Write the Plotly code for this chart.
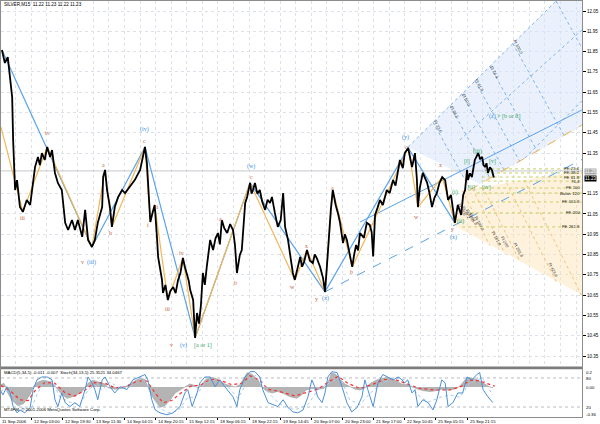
import plotly.graph_objects as go

# ---------------- DATA ----------------
time_labels = ["11 Sep 2006", "12 Sep 03:00", "12 Sep 19:30", "13 Sep 11:30", "14 Sep 04:15",
               "14 Sep 20:15", "15 Sep 12:15", "18 Sep 06:15", "18 Sep 22:15", "19 Sep 14:45",
               "20 Sep 07:00", "20 Sep 23:00", "21 Sep 17:00", "22 Sep 10:45", "25 Sep 05:15",
               "25 Sep 21:15"]
label_step = 64          # bars between time labels (M15)
grid_step = 32
price_ticks = [10.35, 10.45, 10.55, 10.65, 10.75, 10.85, 10.95, 11.05, 11.15, 11.35,
               11.45, 11.55, 11.65, 11.75, 11.85, 11.95, 12.05]

# SILVER M15 price path (bar index, price)
price_points = [
    (4, 11.858), (10, 11.794), (16, 11.823), (21, 11.710), (25, 11.626), (27, 11.414), (31, 11.168),
    (35, 11.217), (41, 11.084), (47, 11.060), (55, 11.119), (62, 11.094), (66, 11.168), (72, 11.281),
    (78, 11.331), (82, 11.291), (86, 11.350), (92, 11.316), (97, 11.380), (103, 11.331), (107, 11.365),
    (113, 11.252), (119, 11.203), (127, 11.168), (134, 11.006), (140, 10.971), (148, 11.020),
    (154, 10.971), (160, 11.020), (169, 10.937), (175, 11.070), (181, 10.922), (189, 10.887),
    (195, 10.922), (201, 11.006), (210, 11.084), (212, 11.232), (216, 11.267), (220, 11.168),
    (226, 11.084), (230, 10.986), (236, 11.084), (243, 11.134), (251, 11.168), (257, 11.153),
    (267, 11.183), (277, 11.217), (288, 11.267), (294, 11.331), (298, 11.380), (302, 11.300),
    (306, 11.150), (309, 11.010), (314, 11.060), (318, 11.094), (323, 10.922), (325, 10.838),
    (333, 10.725), (335, 10.661), (340, 10.700), (345, 10.626), (350, 10.670), (356, 10.690),
    (361, 10.660), (366, 10.725), (371, 10.760), (376, 10.833), (380, 10.790), (384, 10.759),
    (388, 10.720), (391, 10.675), (397, 10.626), (401, 10.439), (405, 10.562), (409, 10.510),
    (413, 10.600), (417, 10.759), (421, 10.700), (425, 10.789), (432, 10.922), (438, 10.872),
    (443, 10.930), (448, 10.956), (452, 10.900), (456, 11.020), (461, 10.980), (467, 10.956),
    (473, 11.000), (479, 10.971), (483, 10.897), (487, 10.759), (490, 10.800), (493, 10.848),
    (497, 10.872), (501, 11.000), (504, 11.104), (508, 11.134), (514, 11.203), (517, 11.150),
    (520, 11.168), (524, 11.203), (529, 11.150), (534, 11.168), (539, 11.110), (545, 11.070),
    (550, 11.120), (555, 11.104), (559, 11.134), (565, 11.055), (571, 10.986), (577, 11.020),
    (582, 11.153), (586, 10.986), (592, 10.922), (598, 10.823), (602, 10.759), (606, 10.725),
    (611, 10.780), (617, 10.838), (621, 10.790), (625, 10.813), (631, 10.872), (637, 10.820),
    (643, 10.808), (647, 10.850), (651, 10.833), (658, 10.789), (664, 10.734), (668, 10.666),
    (671, 10.760), (674, 10.872), (680, 11.070), (684, 11.168), (687, 11.120), (690, 11.094),
    (695, 11.050), (699, 11.006), (705, 10.907), (709, 10.950), (713, 10.922), (719, 10.858),
    (724, 10.789), (728, 10.850), (732, 10.897), (736, 10.870), (740, 10.956), (748, 10.932),
    (754, 11.006), (760, 10.996), (764, 10.960), (767, 10.840), (771, 11.045), (776, 11.080),
    (781, 11.119), (787, 11.094), (791, 11.140), (795, 11.168), (801, 11.153), (805, 11.200),
    (808, 11.217), (813, 11.190), (818, 11.252), (822, 11.316), (828, 11.276), (832, 11.350),
    (839, 11.375), (843, 11.320), (847, 11.281), (853, 11.350), (857, 11.217), (859, 11.084),
    (863, 11.180), (869, 11.252), (874, 11.220), (878, 11.203), (883, 11.150), (888, 11.084),
    (893, 11.130), (898, 11.153), (903, 11.200), (909, 11.232), (915, 11.217), (921, 11.119),
    (927, 11.143), (931, 11.060), (935, 11.006), (941, 11.094), (948, 11.045), (952, 11.143),
    (956, 11.168), (960, 11.267), (962, 11.217), (966, 11.250), (970, 11.232), (976, 11.316),
    (983, 11.350), (987, 11.320), (991, 11.331), (994, 11.290), (997, 11.281), (1000, 11.300),
    (1003, 11.252), (1007, 11.280), (1011, 11.267), (1015, 11.230)]

# Elliott wave pivots
blue_bar = [4, 189, 298, 401, 514, 668, 839, 935]
blue_val = [11.858, 10.887, 11.380, 10.439, 11.203, 10.666, 11.375, 11.006]
orange_bar = [2, 47, 97, 189, 216, 230, 298, 309, 318, 345, 376, 401, 514, 606, 631, 668, 684,
              724, 839, 859, 909, 935]
orange_val = [11.478, 11.060, 11.380, 10.887, 11.267, 10.986, 11.380, 11.010, 11.094, 10.626,
              10.833, 10.439, 11.203, 10.725, 10.872, 10.666, 11.168, 10.789, 11.375, 11.084,
              11.232, 11.006]

wave_text = ["iii", "iv", "v", "(iii)", "a", "b", "c", "(iv)", "i", "ii", "iii", "iv", "v", "(v)",
             "[a or 1]", "a", "b", "c", "(w)", "w", "x", "y", "(x)", "a", "b", "c", "(y)", "w", "x",
             "y", "(x)", "(i)", "[i]", "(ii)", "[ii]", "(iii)", "[iv]", "[v]"]
wave_bar = [47, 97, 169, 189, 212, 228, 296, 298, 304, 323, 345, 374, 353, 378, 417, 454, 485,
            516, 516, 602, 631, 651, 670, 684, 723, 836, 834, 857, 906, 931, 933, 935, 960, 947,
            970, 982, 999, 1013]
wave_val = [11.030, 11.449, 10.813, 10.813, 11.291, 10.956, 11.409, 11.464, 10.996, 11.084,
            10.582, 10.858, 10.404, 10.404, 10.404, 11.025, 10.710, 11.232, 11.286, 10.690,
            10.892, 10.631, 10.631, 11.178, 10.764, 11.380, 11.429, 11.035, 11.291, 10.976,
            10.932, 11.158, 11.306, 11.015, 11.178, 11.360, 11.178, 11.306]
wave_kind = ["o", "o", "o", "b", "o", "o", "o", "b", "o", "o", "o", "o", "o", "b", "g", "o", "o",
             "o", "b", "o", "o", "o", "b", "o", "o", "o", "b", "o", "o", "o", "b", "g", "g", "g",
             "g", "g", "g", "g"]

# Fibonacci zones
blue_zone_bar = [839, 1143, 1200, 1200, 986, 839]
blue_zone_val = [11.380, 12.10, 12.10, 11.488, 11.198, 11.380]
orange_zone_bar = [931, 956, 1200, 1200, 931]
orange_zone_val = [10.996, 11.168, 11.267, 10.646, 10.996]

blue_ft_x0 = [890, 925, 949, 976, 1007, 1054, 1143, 839, 945, 1079]
blue_ft_y0 = [11.502, 11.584, 11.642, 11.706, 11.778, 11.890, 12.099, 11.380, 11.414, 11.326]
blue_ft_x1 = [967, 1007, 1036, 1068, 1104, 1159, 1196, 1143, 1196, 1196]
blue_ft_y1 = [11.170, 11.227, 11.267, 11.310, 11.361, 11.438, 11.868, 12.099, 11.956, 11.607]

orange_ft_x0 = [950, 971, 992, 1041, 1077]
orange_ft_y0 = [11.166, 11.175, 11.183, 11.204, 11.217]
orange_ft_x1 = [1007, 1038, 1069, 1143, 1196]
orange_ft_y1 = [10.895, 10.855, 10.814, 10.717, 10.646]

orange_dash_bar = [966, 1196]
orange_dash_val = [11.168, 11.488]
blue_solid_bar = [740, 1196]
blue_solid_val = [11.010, 11.562]
blue_dash_bar = [668, 1196]
blue_dash_val = [10.666, 11.318]
bid_line_val = 11.262
last_price = 11.23

fe_val = [11.272, 11.252, 11.232, 11.212, 11.178, 11.153, 11.109, 11.055, 10.986]
fe_text = ["FE 23.6", "FE 38.2", "FE 61.8", "76.4", "FE 100", "Balan 120", "FE 161.8", "FE 200",
           "FE 261.8"]
fe_start = [997, 997, 990, 990, 985, 980, 970, 966, 950]

blue_ft_text = ["Ft 23.6", "Ft 38.2", "Ft 50.0", "Ft 61.8", "Ft 76.4", "Ft 100.0"]
blue_ft_lab_bar = [900, 935, 960, 986, 1017, 1064]
blue_ft_lab_val = [11.479, 11.552, 11.611, 11.685, 11.749, 11.873]
orange_ft_text = ["Ft 23.6", "Ft 38.2", "Ft 50.0", "Ft 61.8", "Ft 100.0", "Ft 161.8", "Ft 200",
                  "Ft 261.8", "Ft 423.6"]
orange_ft_lab_bar = [949, 958, 966, 974, 986, 1021, 1038, 1067, 1136]
orange_ft_lab_val = [11.070, 11.055, 11.040, 11.025, 11.005, 10.931, 10.907, 10.872, 10.774]

# MACD(5,34,5)
macd_bar = [2, 8, 12, 16, 25, 37, 49, 62, 68, 76, 88, 103, 113, 117, 127, 138, 154, 169, 175, 181,
            191, 206, 216, 222, 236, 251, 263, 277, 288, 298, 304, 312, 323, 329, 339, 349, 360,
            370, 380, 390, 401, 407, 415, 423, 432, 442, 452, 462, 473, 483, 493, 501, 508, 518,
            530, 538, 547, 559, 571, 584, 596, 610, 621, 629, 641, 653, 666, 674, 682, 690, 699,
            709, 719, 730, 740, 748, 756, 764, 777, 787, 795, 806, 816, 826, 838, 849, 859, 871,
            884, 896, 908, 921, 933, 941, 949, 960, 970, 980, 991, 999, 1007, 1013]
macd_val = [0.03, 0.05, 0.0, -0.08, -0.18, -0.25, -0.22, -0.10, 0.0, 0.06, 0.09, 0.07, 0.02, -0.02,
            -0.10, -0.15, -0.12, -0.06, 0.0, 0.05, 0.09, 0.06, 0.04, -0.01, -0.03, -0.02, 0.03,
            0.08, 0.12, 0.10, 0.0, -0.12, -0.22, -0.27, -0.25, -0.18, -0.08, -0.04, 0.0, 0.04,
            0.02, -0.02, 0.04, 0.10, 0.13, 0.12, 0.08, 0.04, 0.02, 0.0, 0.03, 0.12, 0.19, 0.17,
            0.10, 0.0, -0.05, -0.08, -0.06, -0.09, -0.13, -0.15, -0.10, -0.04, -0.02, -0.03,
            -0.02, 0.06, 0.19, 0.17, 0.10, 0.04, 0.01, -0.03, -0.04, -0.02, 0.02, 0.06, 0.10,
            0.12, 0.13, 0.11, 0.08, 0.04, 0.03, 0.0, -0.03, -0.05, -0.06, -0.05, -0.03, -0.04,
            -0.03, -0.01, 0.04, 0.13, 0.11, 0.10, 0.06, 0.03, 0.0, -0.01]
sig_bar = [2, 21, 41, 58, 72, 92, 113, 134, 154, 175, 195, 216, 236, 257, 284, 302, 319, 335, 353,
           374, 395, 411, 432, 452, 477, 497, 514, 534, 551, 575, 606, 627, 653, 678, 695, 715,
           740, 764, 791, 812, 838, 863, 894, 925, 949, 966, 986, 1007, 1017]
sig_val = [0.02, -0.05, -0.17, -0.18, -0.05, 0.06, 0.05, -0.08, -0.12, -0.04, 0.06, 0.05, -0.01,
           0.0, 0.08, 0.08, -0.08, -0.21, -0.18, -0.07, 0.02, 0.02, 0.10, 0.09, 0.03, 0.05, 0.15,
           0.09, -0.03, -0.06, -0.12, -0.08, -0.03, 0.08, 0.14, 0.05, -0.02, 0.03, 0.10, 0.10,
           0.04, -0.02, -0.04, -0.04, 0.01, 0.09, 0.08, 0.03, 0.01]

# Stochastic(34,13,5)
st_bar = [0, 6, 14, 21, 27, 35, 41, 51, 62, 68, 76, 86, 97, 107, 113, 119, 127, 134, 144, 154, 164,
          175, 181, 189, 195, 201, 210, 216, 226, 236, 247, 261, 273, 288, 298, 304, 312, 319, 329,
          343, 356, 370, 380, 386, 395, 405, 411, 421, 432, 442, 452, 462, 473, 479, 487, 493, 504,
          514, 524, 534, 540, 551, 561, 571, 582, 592, 602, 612, 623, 633, 641, 647, 653, 662, 668,
          674, 682, 693, 703, 713, 723, 734, 744, 750, 756, 767, 777, 787, 797, 808, 818, 822, 832,
          838, 847, 853, 859, 869, 880, 890, 898, 908, 915, 921, 931, 941, 951, 960, 970, 980, 986,
          993, 1003, 1013]
st_val = [56, 45, 62, 49, 21, 8, 14, 8, 19, 56, 76, 82, 82, 76, 35, 21, 49, 29, 21, 29, 21, 56, 82,
          70, 56, 35, 76, 82, 62, 49, 62, 56, 76, 82, 87, 76, 35, 14, 8, 4, 8, 21, 49, 56, 21, 49,
          70, 82, 82, 62, 76, 62, 49, 41, 21, 56, 82, 93, 93, 82, 56, 29, 25, 21, 35, 19, 10, 8,
          14, 41, 76, 62, 41, 29, 49, 82, 93, 91, 62, 29, 10, 19, 41, 76, 56, 21, 70, 87, 82, 76,
          82, 80, 70, 76, 49, 56, 21, 35, 29, 14, 35, 76, 70, 21, 29, 49, 49, 82, 76, 87, 91, 56,
          41, 29]
ss_bar = [0, 21, 41, 62, 78, 92, 109, 123, 144, 164, 181, 195, 210, 226, 247, 273, 292, 308, 325,
          345, 366, 386, 401, 421, 442, 469, 489, 510, 530, 551, 575, 606, 633, 653, 678, 699, 719,
          740, 760, 787, 812, 838, 859, 880, 904, 925, 945, 966, 991, 1013]
ss_val = [55, 50, 20, 12, 50, 75, 72, 40, 30, 25, 55, 65, 55, 72, 58, 65, 80, 60, 20, 8, 12, 40, 40,
          70, 75, 62, 38, 75, 88, 50, 26, 14, 25, 55, 70, 82, 35, 25, 48, 70, 80, 75, 45, 30, 40,
          45, 40, 70, 80, 45]
stoch_levels = [80, 20]

# ---------------- FIGURE ----------------
W, H = 600, 424
PL, PR, PT, PB = 1, 582, 1, 417          # plot area in pixels
def px_x(px):
    return (px - PL) / (PR - PL)
def px_y(py):
    return (PB - py) / (PB - PT)

XR = [2.06, 1196.3]
YR = [10.2958, 12.0993]
main_dom = [px_y(367), 1.0]
low_dom = [0.0, px_y(369)]

FONT = "Liberation Sans"
SERIF = "Liberation Serif"
C_BLUE = "#5aa2ea"
C_ORANGE = "#f2b655"
C_LAB = {"o": "#c8643c", "b": "#3a8ee6", "g": "#2e9e5a"}
GRID = "#dde2e8"

fig = go.Figure()

def line(xs, ys, color, width=1, dash="solid", yaxis="y", xaxis="x"):
    fig.add_trace(go.Scatter(x=xs, y=ys, mode="lines", xaxis=xaxis, yaxis=yaxis,
                             line=dict(color=color, width=width, dash=dash),
                             hoverinfo="skip", showlegend=False))

# zones
fig.add_trace(go.Scatter(x=blue_zone_bar, y=blue_zone_val, fill="toself", mode="lines",
                         fillcolor="rgba(214,228,250,0.5)", line=dict(width=0),
                         hoverinfo="skip", showlegend=False))
fig.add_trace(go.Scatter(x=orange_zone_bar, y=orange_zone_val, fill="toself", mode="lines",
                         fillcolor="rgba(252,226,180,0.45)", line=dict(width=0),
                         hoverinfo="skip", showlegend=False))

# bid line
line([XR[0], XR[1]], [bid_line_val, bid_line_val], "#c4c8cc", 1)

for i in range(len(blue_ft_x0)):
    line([blue_ft_x0[i], blue_ft_x1[i]], [blue_ft_y0[i], blue_ft_y1[i]], "#7fb3ee", 1, "dot")
for i in range(len(orange_ft_x0)):
    line([orange_ft_x0[i], orange_ft_x1[i]], [orange_ft_y0[i], orange_ft_y1[i]], "#f3c27a", 1, "dot")
line(orange_dash_bar, orange_dash_val, "#f2b050", 1, "dash")
for i in range(len(fe_val)):
    line([fe_start[i], 1196], [fe_val[i], fe_val[i]], "#c8cf60", 1, "dot")
line(blue_solid_bar, blue_solid_val, C_BLUE, 1)
line(blue_dash_bar, blue_dash_val, C_BLUE, 1, "dash")

# wave lines
line(blue_bar, blue_val, C_BLUE, 1.2)
line(orange_bar, orange_val, C_ORANGE, 1.2)

# price
line([p[0] for p in price_points], [p[1] for p in price_points], "#000000", 1.8)

# lower panel
fig.add_trace(go.Scatter(x=macd_bar, y=macd_val, xaxis="x2", yaxis="y2", mode="lines",
                         fill="tozeroy", fillcolor="#b4b4b4", line=dict(color="#a0a0a0", width=0.6),
                         hoverinfo="skip", showlegend=False))
line(sig_bar, sig_val, "#ff2a2a", 1.2, "dot", yaxis="y2", xaxis="x2")
for lv in stoch_levels:
    line([XR[0], XR[1]], [lv, lv], "#b8bcc0", 1, "dot", yaxis="y3", xaxis="x2")
line(ss_bar, ss_val, "#a9c9ef", 1, "dot", yaxis="y3", xaxis="x2")
line(st_bar, st_val, "#4d8fd6", 1, yaxis="y3", xaxis="x2")

ann = []
def A(text, x, y, xref="x", yref="y", size=4.5, color="#000000", xanchor="center",
      yanchor="middle", family=FONT, angle=0, bg=None):
    d = dict(text=text, x=x, y=y, xref=xref, yref=yref, showarrow=False,
             font=dict(size=size, color=color, family=family), xanchor=xanchor,
             yanchor=yanchor, textangle=angle, borderpad=0)
    if bg:
        d["bgcolor"] = bg
    ann.append(d)

for t, b, v, k in zip(wave_text, wave_bar, wave_val, wave_kind):
    A(t, b, v, size=6, color=C_LAB[k], family=SERIF)
A("<span style='color:#3a8ee6'>(z)</span> > [b or ii]", 1038, 11.528, size=6,
  color="#2e9e5a", family=SERIF)

for t, b, v in zip(blue_ft_text, blue_ft_lab_bar, blue_ft_lab_val):
    A(t, b, v, size=4.2, color="#333333", angle=62)
for t, b, v in zip(orange_ft_text, orange_ft_lab_bar, orange_ft_lab_val):
    A(t, b, v, size=4.2, color="#333333", angle=62)
for t, v in zip(fe_text, fe_val):
    A(t, 1194, v, size=4.3, color="#222222", xanchor="right")

# title & indicator texts
A("SILVER,M15  11.22 11.23 11.22 11.23", px_x(3), px_y(5), "paper", "paper", 4.6, xanchor="left")
A("MACD(5,34,5) -0.011 -0.007  Stoch(34,13,5) 25.3521 34.0467", px_x(3), px_y(372),
  "paper", "paper", 4.3, xanchor="left")
A("MT4FM, \u00a9 2001-2006 MetaQuotes Software Corp.", px_x(3), px_y(409), "paper", "paper",
  4.3, xanchor="left")

# time labels
for k, t in enumerate(time_labels):
    A(t, k * label_step + 3, px_y(418), "x", "paper", 4.3, xanchor="left", yanchor="top")

# right price boxes
A("11.26", px_x(584), px_y(171), "paper", "paper", 4.5, color="#ffffff", xanchor="left", bg="#a8a8a8")
A("%.2f" % last_price, px_x(584), px_y(178), "paper", "paper", 4.5, color="#ffffff",
  xanchor="left", bg="#000000")
# lower panel scale labels
for t, py in [("0.2", 372), ("80", 378), ("0.00", 387), ("20", 407), ("-0.36", 414)]:
    A(t, px_x(585), px_y(py), "paper", "paper", 4.3, xanchor="left")

grid_vals = [grid_step * k for k in range(1, 38)]
fig.update_layout(
    width=W, height=H, margin=dict(l=PL, r=W - PR, t=PT, b=H - PB),
    paper_bgcolor="#ffffff", plot_bgcolor="#ffffff",
    font=dict(family=FONT, size=5, color="#000000"),
    showlegend=False, annotations=ann,
    xaxis=dict(domain=[0, 1], anchor="y", range=XR, tickvals=grid_vals, showticklabels=False,
               showgrid=True, gridcolor=GRID, griddash="dot", gridwidth=1, ticks="",
               showline=True, mirror=True, linecolor="#8c8c8c", linewidth=1, zeroline=False),
    yaxis=dict(domain=main_dom, anchor="x", side="right", range=YR, tickvals=price_ticks,
               ticktext=["%.2f" % v for v in price_ticks], ticks="outside", ticklen=3,
               tickcolor="#000000", tickfont=dict(size=4.5, family=FONT, color="#000000"),
               showgrid=True, gridcolor=GRID, griddash="dot", gridwidth=1,
               showline=True, mirror=True, linecolor="#8c8c8c", linewidth=1, zeroline=False,
               automargin=False),
    xaxis2=dict(domain=[0, 1], anchor="y2", range=XR, matches="x",
                tickvals=[label_step * k for k in range(16)], showticklabels=False,
                ticks="outside", ticklen=2, tickcolor="#000000", showgrid=False,
                showline=True, mirror=True, linecolor="#8c8c8c", linewidth=1, zeroline=False),
    yaxis2=dict(domain=low_dom, anchor="x2", side="right", range=[-0.40, 0.24],
                showticklabels=False, showgrid=False, ticks="", zeroline=False,
                showline=True, mirror=True, linecolor="#8c8c8c", linewidth=1),
    yaxis3=dict(overlaying="y2", anchor="x2", side="right", range=[-0.6, 98.5],
                showticklabels=False, showgrid=False, ticks="", zeroline=False),
    shapes=[dict(type="rect", xref="paper", yref="paper", x0=0, x1=1,
                 y0=px_y(369.2), y1=px_y(366.6), fillcolor="#7c7c7c", line=dict(width=0))],
)

fig.write_html("out.html", config={"displayModeBar": False},
               post_script="document.body.style.margin='0px';document.body.style.padding='0px';")
